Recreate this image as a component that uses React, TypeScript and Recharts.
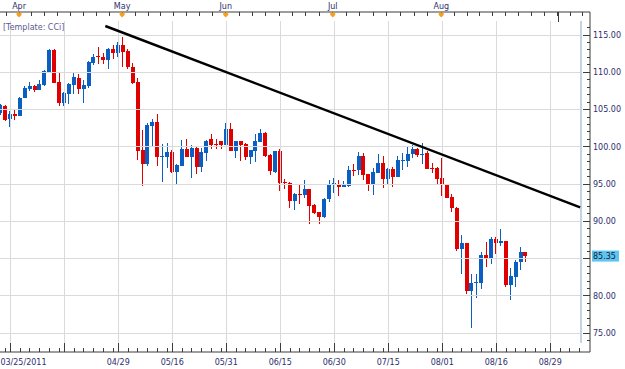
import { ComposedChart, Bar, XAxis, YAxis, ReferenceLine } from "recharts";

// daily bars, index 0 = 03/25/2011
const OPEN = [
  104.5, 105.5, 103.7, 104.35, 104.2, 106.6, 107.8, 108.15, 107.6, 108.3,
  110.1, 113.0, 108.7, 105.9, 107.1, 108.3, 109.3, 107.75, 108.2, 111.2,
  112.2, 112.1, 111.65, 113.1, 112.65, 113.65, 112.9, 110.65, 108.7, 99.6,
  97.7, 102.8, 103.3, 98.7, 98.7, 99.3, 96.65, 97.4, 99.65, 98.65,
  99.9, 97.3, 99.2, 101.0, 100.35, 100.75, 100.3, 102.45, 99.5, 100.75,
  100.35, 98.65, 99.5, 100.7, 101.9, 98.9, 96.65, 99.45, 95.25, 95.2,
  92.7, 93.65, 93.5, 94.4, 92.2, 91.2, 90.6, 93.0, 95.1, 95.0,
  94.65, 94.8, 96.9, 96.85, 98.8, 96.3, 95.0, 96.5, 97.85, 95.65,
  97.0, 95.95, 98.2, 98.15, 99.05, 99.7, 98.95, 99.2, 97.2, 97.2,
  95.85, 95.0, 93.3, 91.85, 86.35, 87.05, 80.6, 81.8, 81.75, 85.45,
  85.05, 87.6, 87.05, 87.35, 81.45, 82.6, 84.6, 85.9,
];
const HIGH = [
  105.8, 105.6, 104.85, 105.0, 106.7, 108.15, 108.7, 108.3, 108.95, 110.3,
  113.1, 113.1, 110.0, 107.4, 108.5, 109.95, 109.75, 108.95, 111.55, 112.4,
  113.4, 112.65, 113.2, 113.65, 114.0, 114.8, 113.1, 111.2, 109.2, 102.25,
  103.25, 103.8, 104.4, 100.35, 100.45, 99.55, 97.65, 100.9, 101.1, 100.25,
  100.0, 99.9, 100.9, 101.7, 101.05, 100.8, 103.25, 103.25, 100.8, 100.8,
  100.55, 99.6, 101.7, 102.4, 101.95, 99.1, 99.45, 99.65, 95.65, 95.3,
  93.85, 95.0, 95.6, 94.4, 92.3, 91.2, 93.1, 95.6, 95.85, 95.6,
  95.4, 97.4, 97.75, 99.35, 99.2, 96.35, 97.1, 99.05, 98.8, 97.1,
  97.3, 98.8, 99.2, 100.1, 100.25, 99.8, 100.45, 99.5, 97.85, 97.35,
  98.55, 95.0, 93.65, 91.9, 88.15, 87.05, 83.0, 83.0, 85.9, 87.25,
  87.85, 87.85, 88.95, 87.35, 83.7, 84.8, 86.5, 85.9,
];
const LOW = [
  104.3, 103.5, 102.7, 103.6, 104.1, 106.5, 107.5, 107.4, 107.6, 108.2,
  110.0, 108.5, 105.5, 105.5, 105.8, 107.1, 107.1, 105.9, 107.9, 110.95,
  111.05, 111.05, 110.45, 111.75, 112.1, 110.75, 110.4, 108.4, 98.2, 94.75,
  97.4, 100.1, 97.4, 95.3, 97.2, 96.55, 94.9, 97.4, 98.6, 95.85,
  96.4, 96.65, 98.1, 99.65, 99.65, 99.75, 100.25, 99.45, 98.55, 98.15,
  98.2, 97.7, 98.0, 100.65, 98.65, 96.2, 96.45, 94.1, 94.35, 91.85,
  91.5, 92.3, 93.2, 89.65, 90.95, 89.65, 90.4, 92.6, 93.75, 93.45,
  94.6, 94.6, 96.05, 96.2, 95.5, 94.1, 93.5, 96.5, 94.5, 94.9,
  94.65, 95.95, 96.85, 97.25, 98.45, 98.6, 97.7, 97.0, 96.45, 94.9,
  93.45, 93.15, 91.3, 86.05, 82.9, 80.25, 75.7, 79.7, 81.0, 83.9,
  84.25, 85.6, 86.7, 81.2, 79.4, 81.2, 83.45, 84.6,
];
const CLOSE = [
  105.6, 103.6, 104.35, 104.2, 106.6, 107.9, 108.15, 107.6, 108.4, 110.15,
  113.0, 108.6, 105.9, 107.25, 108.4, 109.4, 107.75, 108.3, 111.4, 112.1,
  112.1, 111.65, 113.1, 112.65, 113.65, 112.7, 110.65, 108.6, 99.5, 97.7,
  102.9, 103.3, 98.7, 98.8, 99.3, 96.65, 97.5, 99.65, 98.65, 99.9,
  97.3, 99.3, 100.75, 100.3, 100.2, 100.3, 102.45, 99.5, 100.75, 100.3,
  98.65, 99.55, 100.75, 101.9, 98.75, 96.8, 99.45, 95.2, 95.1, 92.7,
  93.65, 93.5, 94.4, 92.05, 91.15, 90.6, 93.05, 95.0, 95.2, 94.65,
  94.85, 96.85, 96.8, 98.8, 96.2, 95.0, 96.65, 97.85, 95.65, 97.0,
  95.95, 98.2, 98.3, 99.1, 99.7, 98.9, 99.1, 97.0, 97.0, 95.7,
  94.85, 93.2, 91.8, 86.35, 87.05, 80.6, 81.8, 81.85, 85.45, 85.05,
  87.6, 87.05, 87.35, 81.45, 82.65, 84.6, 85.9, 85.35,
];

const BOTTOM_LABEL_IDX = [0, 24, 35, 46, 57, 68, 79, 90, 101, 112];
const BOTTOM_LABELS = ["03/25/2011", "04/29", "05/16", "05/31", "06/15", "06/30", "07/15", "08/01", "08/16", "08/29"];
const GRID_IDX = [2, 13, 24, 35, 46, 57, 68, 79, 90, 101, 112];
const MONTH_IDX = [3.8, 24.8, 45.9, 67.7, 89.8];
const MONTH_LABELS = ["Apr", "May", "Jun", "Jul", "Aug"];
const SEP_IDX = 113.6;
const PRICE_GRID = [75, 80, 85, 90, 95, 100, 105, 110, 115];
const LAST_PRICE = 85.35;
const TREND = [
  { x: 21.37, y: 116.21 },
  { x: 118.1, y: 91.89 },
];

const X_DOMAIN: [number, number] = [-0.08, 118.27];
const Y_DOMAIN: [number, number] = [73.69, 116.88];

const BLUE = "#0a60c2";
const RED = "#e00000";
const GRID = "#dadada";
const AXIS = "#3c3c3c";
const LABEL = "#2e2e6e";
const FONT = "'DejaVu Sans', sans-serif";

const data = OPEN.map((o, i) => ({
  i,
  open: o,
  high: HIGH[i],
  low: LOW[i],
  close: CLOSE[i],
  range: [LOW[i], HIGH[i]],
}));

// bottom ticks: grid majors plus a minor every 2 bars
const bottomTicks: number[] = [0];
for (let g = -9; g <= 118; g += 11) {
  for (let k = 0; k < 11; k += 2) {
    const v = g + k;
    if (v > 0 && v < 118.3) bottomTicks.push(v);
  }
}

// top ticks: month markers split in 8
const topTicks: number[] = [...MONTH_IDX, SEP_IDX];
{
  const step = (MONTH_IDX[1] - MONTH_IDX[0]) / 8;
  for (let v = MONTH_IDX[0] - step; v > -0.1; v -= step) topTicks.push(v);
  for (let m = 0; m < MONTH_IDX.length - 1; m++) {
    const s = (MONTH_IDX[m + 1] - MONTH_IDX[m]) / 8;
    for (let k = 1; k < 8; k++) topTicks.push(MONTH_IDX[m] + s * k);
  }
  const last = MONTH_IDX[MONTH_IDX.length - 1];
  for (let v = last + step; v < 120; v += step) topTicks.push(v);
}

// last price goes last so its box sits on top
const rightTicks: number[] = [];
for (let v = 74; v <= 116; v++) rightTicks.push(v);
rightTicks.push(LAST_PRICE);

function Candle(props: any) {
  const { x, y, width, height, payload } = props;
  if (x == null || !payload) return null;
  const { open, high, low, close } = payload;
  const cx = x + width / 2;
  const top = Math.min(y, y + height);
  const h = Math.abs(height);
  const span = high - low || 1;
  const py = (v: number) => top + ((high - v) / span) * h;
  const color = close >= open ? BLUE : RED;
  const bTop = py(Math.max(open, close));
  const bBot = py(Math.min(open, close));
  return (
    <g shapeRendering="crispEdges">
      <line x1={cx} x2={cx} y1={top} y2={top + h} stroke={color} strokeWidth={1} />
      <rect x={cx - 2} y={bTop} width={4} height={Math.max(1, bBot - bTop)} fill={color} />
    </g>
  );
}

function BottomTick(props: any) {
  const { x, y, payload } = props;
  const v = payload.value;
  const li = BOTTOM_LABEL_IDX.indexOf(v);
  const major = GRID_IDX.includes(v);
  return (
    <g>
      {v !== 0 && (
        <line x1={x} x2={x} y1={y} y2={y - (major ? 9 : 4)} stroke={AXIS} shapeRendering="crispEdges" />
      )}
      {li >= 0 && (
        <text x={x} y={y + 13} textAnchor={v === 0 ? "start" : "middle"} fontSize={8} fill={LABEL} fontFamily={FONT}>
          {BOTTOM_LABELS[li]}
        </text>
      )}
    </g>
  );
}

function TopTick(props: any) {
  const { x, y, payload } = props;
  const v = payload.value;
  const mi = MONTH_IDX.indexOf(v);
  if (mi >= 0) {
    return (
      <g>
        <line x1={x} x2={x} y1={y} y2={y + 4} stroke={AXIS} shapeRendering="crispEdges" />
        <polygon
          points={`${x - 2.5},${y + 0.5} ${x + 2.5},${y + 0.5} ${x + 2.5},${y + 3} ${x},${y + 5.5} ${x - 2.5},${y + 3}`}
          fill="#f5a020"
        />
        <text x={x} y={y - 3} textAnchor="middle" fontSize={8} fill={LABEL} fontFamily={FONT}>
          {MONTH_LABELS[mi]}
        </text>
      </g>
    );
  }
  const long = v === SEP_IDX;
  return <line x1={x} x2={x} y1={y} y2={y + (long ? 10 : 4)} stroke={AXIS} shapeRendering="crispEdges" />;
}

function RightTick(props: any) {
  const { x, y, payload } = props;
  const v = payload.value;
  if (v === LAST_PRICE) {
    return (
      <g>
        <rect x={x + 2} y={y - 5.5} width={27} height={11} fill="#5cc5f0" />
        <text x={x + 3} y={y} dy="0.35em" fontSize={8} fill="#1a1a3a" fontFamily={FONT}>
          {v.toFixed(2)}
        </text>
      </g>
    );
  }
  const major = v % 5 === 0;
  // the last-price box covers the label next to it
  const hidden = Math.abs(v - LAST_PRICE) < 1;
  return (
    <g>
      <line x1={x - (major ? 7 : 3)} x2={x} y1={y} y2={y} stroke={AXIS} shapeRendering="crispEdges" />
      {major && !hidden && (
        <text x={x + 3} y={y} dy="0.35em" fontSize={8} fill={LABEL} fontFamily={FONT}>
          {v.toFixed(2)}
        </text>
      )}
    </g>
  );
}

export default function App() {
  return (
    <div style={{ position: "absolute", left: 0, top: 0, width: 625, height: 369, background: "#fff", fontFamily: FONT }}>
      <ComposedChart width={625} height={369} data={data} margin={{ top: 0, right: 0, bottom: 0, left: 0 }}>
        <XAxis
          xAxisId="b"
          type="number"
          dataKey="i"
          orientation="bottom"
          domain={X_DOMAIN}
          allowDataOverflow
          padding={{ left: 0, right: 9 }}
          height={17}
          ticks={bottomTicks}
          interval={0}
          tickSize={0}
          tickMargin={0}
          tickLine={false}
          axisLine={{ stroke: AXIS }}
          tick={<BottomTick />}
        />
        <XAxis
          xAxisId="t"
          type="number"
          dataKey="i"
          orientation="top"
          domain={X_DOMAIN}
          allowDataOverflow
          padding={{ left: 0, right: 9 }}
          height={12}
          ticks={topTicks}
          interval={0}
          tickSize={0}
          tickMargin={0}
          tickLine={false}
          axisLine={{ stroke: AXIS }}
          tick={<TopTick />}
        />
        <YAxis
          yAxisId="r"
          orientation="right"
          domain={Y_DOMAIN}
          allowDataOverflow
          padding={{ top: 9, bottom: 9 }}
          width={35}
          ticks={rightTicks}
          interval={0}
          tickSize={0}
          tickMargin={0}
          tickLine={false}
          axisLine={{ stroke: AXIS }}
          tick={<RightTick />}
        />
        {PRICE_GRID.map((p) => (
          <ReferenceLine
            key={"h" + p}
            xAxisId="b"
            yAxisId="r"
            segment={[{ x: X_DOMAIN[0], y: p }, { x: X_DOMAIN[1], y: p }]}
            stroke={GRID}
            strokeWidth={1}
            shapeRendering="crispEdges"
          />
        ))}
        {GRID_IDX.map((g) => (
          <ReferenceLine
            key={"v" + g}
            xAxisId="b"
            yAxisId="r"
            segment={[{ x: g, y: Y_DOMAIN[0] }, { x: g, y: Y_DOMAIN[1] }]}
            stroke={GRID}
            strokeWidth={1}
            shapeRendering="crispEdges"
          />
        ))}
        <ReferenceLine
          xAxisId="b"
          yAxisId="r"
          segment={[{ x: X_DOMAIN[1], y: Y_DOMAIN[0] }, { x: X_DOMAIN[1], y: Y_DOMAIN[1] }]}
          stroke="#c6d3e2"
          strokeWidth={2}
        />
        <Bar
          xAxisId="b"
          yAxisId="r"
          dataKey="range"
          barSize={5}
          shape={<Candle />}
          isAnimationActive={false}
        />
        <ReferenceLine
          xAxisId="b"
          yAxisId="r"
          segment={TREND}
          stroke="#000"
          strokeWidth={2.5}
        />
      </ComposedChart>
      <div style={{ position: "absolute", left: 3, top: 23, fontSize: 8, color: "#5a5a90", fontFamily: FONT, whiteSpace: "nowrap" }}>
        [Template: CCi]
      </div>
    </div>
  );
}
